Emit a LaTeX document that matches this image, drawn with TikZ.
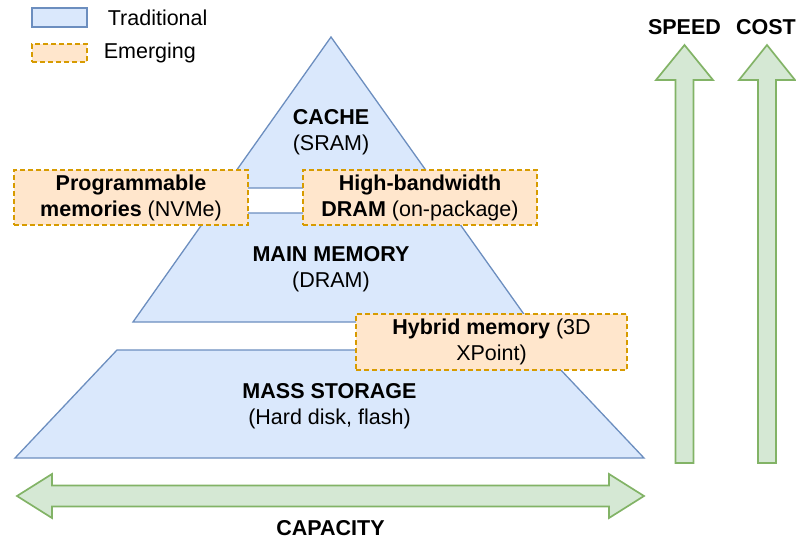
\documentclass[tikz,border=0pt]{standalone}
\usepackage{fontspec}
\setmainfont{Liberation Sans}
\usepackage{xcolor}
\usepackage{tikz}
\usetikzlibrary{positioning}

\definecolor{tradfill}{HTML}{DAE8FC}
\definecolor{tradline}{HTML}{6C8EBF}
\definecolor{emergefill}{HTML}{FFE6CC}
\definecolor{emergeline}{HTML}{D79B00}
\definecolor{arrowfill}{HTML}{D5E8D4}
\definecolor{arrowline}{HTML}{82B366}

\begin{document}
\begin{tikzpicture}[
    x=1pt, y=-1pt,
    every node/.style={font=\fontsize{21.5}{26}\selectfont},
    tradshape/.style={draw=tradline, fill=tradfill, line width=1.3pt},
    emergebox/.style={draw=emergeline, fill=emergefill, line width=1.3pt, dash pattern=on 5pt off 3pt, align=center, inner sep=0pt, minimum width=234pt, minimum height=55pt},
    arrowshape/.style={draw=arrowline, fill=arrowfill, line width=1.7pt},
    leveltext/.style={align=center, inner sep=0pt},
    keytext/.style={inner sep=0pt}
]
\useasboundingbox (0,0) rectangle (796,539);

% Legend
\node[tradshape, inner sep=0pt, minimum width=55pt, minimum height=19pt] (tradkey) at (59.5,17.5) {};
\node[keytext, right=20pt of tradkey] (tradname) {Traditional};
\node[emergebox, minimum width=55pt, minimum height=18pt] (emergekey) at (59.5,53) {};
\node[keytext, right=16pt of emergekey] (emergename) {Emerging};

% Pyramid levels
\draw[tradshape] (331,37) -- (438.5,188) -- (224,188) -- cycle;
\draw[tradshape] (210,213) -- (452,213) -- (529.5,322) -- (133,322) -- cycle;
\draw[tradshape] (117,350) -- (542,350) -- (644,458) -- (15,458) -- cycle;

\node[leveltext] (cache) at (331,132.5) {\textbf{CACHE}\\(SRAM)};
\node[leveltext] (mainmem) at (331,269.5) {\textbf{MAIN MEMORY}\\(DRAM)};
\node[leveltext] (massstore) at (329.5,406) {\textbf{MASS STORAGE}\\(Hard disk, flash)};

% Emerging technologies
\node[emergebox] (progmem) at (131,197.5) {\textbf{Programmable}\\\textbf{memories} (NVMe)};
\node[emergebox] (hbmem) at (420,197.5) {\textbf{High-bandwidth}\\\textbf{DRAM} (on-package)};
\node[emergebox, minimum width=271pt, minimum height=56pt] (hybridmem) at (491.5,342) {\textbf{Hybrid memory} (3D\\XPoint)};

% Speed and cost arrows
\draw[arrowshape] (684.5,45) -- (713,80) -- (693.5,80) -- (693.5,463) -- (675.5,463) -- (675.5,80) -- (656,80) -- cycle;
\draw[arrowshape] (767,45) -- (795,80) -- (776,80) -- (776,463) -- (758,463) -- (758,80) -- (739,80) -- cycle;
\node (speed) at (684.5,27) {\textbf{SPEED}};
\node (cost) at (766,27) {\textbf{COST}};

% Capacity arrow
\draw[arrowshape] (17,496) -- (52,474) -- (52,485.5) -- (609,485.5) -- (609,474) -- (644,496)
    -- (609,518) -- (609,506.5) -- (52,506.5) -- (52,518) -- cycle;
\node (capacity) at (330.5,528) {\textbf{CAPACITY}};

\end{tikzpicture}
\end{document}
